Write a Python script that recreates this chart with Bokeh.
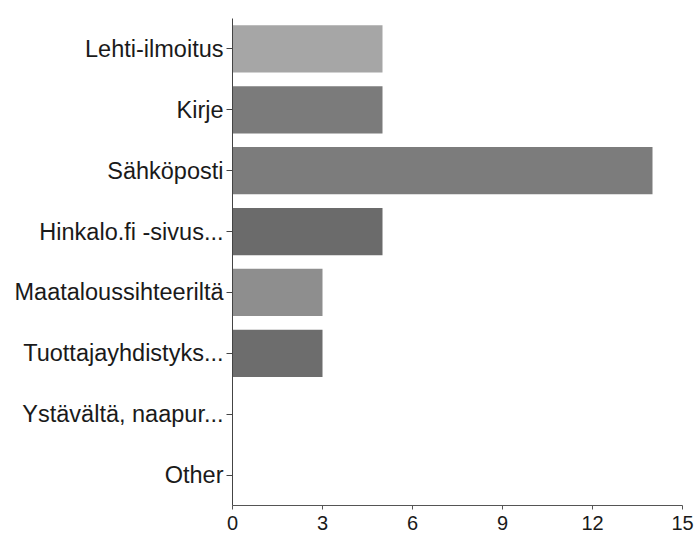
from bokeh.plotting import figure
from bokeh.models import ColumnDataSource, FactorRange, Range1d, FixedTicker
from bokeh.embed import file_html
from bokeh.resources import INLINE

categories = ["Lehti-ilmoitus", "Kirje", "Sähköposti", "Hinkalo.fi -sivus...",
              "Maataloussihteeriltä", "Tuottajayhdistyks...", "Ystävältä, naapur...", "Other"]
counts = [5, 5, 14, 5, 3, 3, 0, 0]
x_ticks = [0, 3, 6, 9, 12, 15]

bar_colors = ["#a6a6a6", "#7b7b7b", "#7c7c7c", "#6b6b6b", "#8e8e8e", "#6d6d6d", "#6d6d6d", "#6d6d6d"]

source = ColumnDataSource(data=dict(cat=categories, n=counts, color=bar_colors))

p = figure(
    width=694, height=535,
    y_range=FactorRange(factors=list(reversed(categories))),
    x_range=Range1d(0, 15),
    output_backend="svg", toolbar_location=None,
    min_border_left=232, min_border_top=18, min_border_right=12, min_border_bottom=30,
)

p.hbar(y="cat", right="n", left=0, height=0.775, color="color", line_color=None, source=source)

p.xgrid.visible = False
p.ygrid.visible = False
p.outline_line_color = None
p.background_fill_color = "white"
p.border_fill_color = "white"

font = "Liberation Sans"

p.yaxis.major_label_text_font = font
p.yaxis.major_label_text_font_size = "23.5px"
p.yaxis.major_label_text_color = "#1a1a1a"
p.yaxis.major_tick_out = 6
p.yaxis.major_tick_in = 0
p.yaxis.major_label_standoff = 3
p.yaxis.axis_line_color = "#444444"
p.yaxis.major_tick_line_color = "#444444"
p.yaxis.axis_line_width = 1

p.xaxis.ticker = FixedTicker(ticks=x_ticks)
p.xaxis.minor_tick_line_color = None
p.xaxis.major_label_text_font = font
p.xaxis.major_label_text_font_size = "20px"
p.xaxis.major_label_text_color = "#1a1a1a"
p.xaxis.major_tick_out = 4
p.xaxis.major_tick_in = 0
p.xaxis.major_label_standoff = 6
p.xaxis.axis_line_color = "#555555"
p.xaxis.major_tick_line_color = "#555555"

open("out.html", "w").write(file_html(p, INLINE))
